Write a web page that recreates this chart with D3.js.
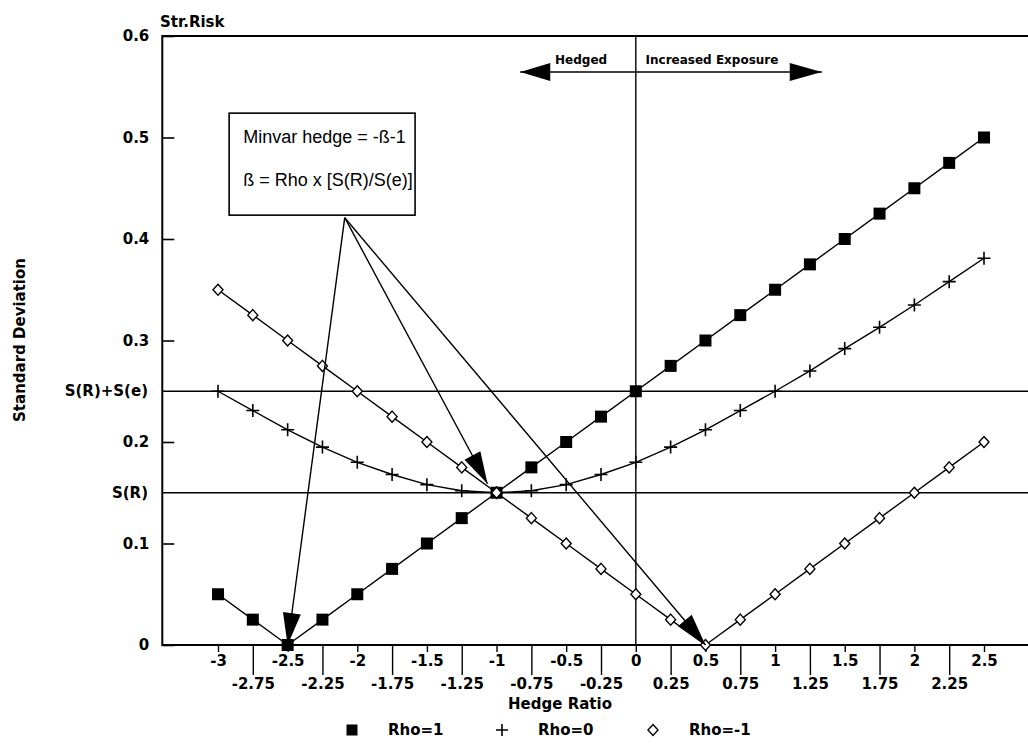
<!DOCTYPE html>
<html>
<head>
<meta charset="utf-8">
<script src="https://cdn.jsdelivr.net/npm/d3@7/dist/d3.min.js"></script>
<style>
  body { margin: 0; background: #ffffff; }
</style>
</head>
<body>
<div id="viz"></div>
<script>

const hedgeRatio = [-3, -2.75, -2.5, -2.25, -2, -1.75, -1.5, -1.25, -1, -0.75, -0.5, -0.25, 0, 0.25, 0.5, 0.75, 1, 1.25, 1.5, 1.75, 2, 2.25, 2.5]

const rhoPlusOne = [0.05, 0.025, 0, 0.025, 0.05, 0.075, 0.1, 0.125, 0.15, 0.175, 0.2, 0.225, 0.25, 0.275, 0.3, 0.325, 0.35, 0.375, 0.4, 0.425, 0.45, 0.475, 0.5]
const rhoZero = [0.25, 0.231, 0.212, 0.195, 0.18, 0.168, 0.158, 0.152, 0.15, 0.152, 0.158, 0.168, 0.18, 0.195, 0.212, 0.231, 0.25, 0.27, 0.292, 0.313, 0.335, 0.358, 0.381]
const rhoMinusOne = [0.35, 0.325, 0.3, 0.275, 0.25, 0.225, 0.2, 0.175, 0.15, 0.125, 0.1, 0.075, 0.05, 0.025, 0, 0.025, 0.05, 0.075, 0.1, 0.125, 0.15, 0.175, 0.2]

const majorTicks = [-3, -2.5, -2, -1.5, -1, -0.5, 0, 0.5, 1, 1.5, 2, 2.5]
const quarterTicks = [-2.75, -2.25, -1.75, -1.25, -0.75, -0.25, 0.25, 0.75, 1.25, 1.75, 2.25]
const yTicks = [0, 0.1, 0.2, 0.3, 0.4, 0.5, 0.6]

const refLabels = ["S(R)+S(e)", "S(R)"]
const refValues = [0.25, 0.15]

const legendNames = ["Rho=1", "Rho=0", "Rho=-1"]

// minimum-variance hedges the callout points at
const calloutTargets = [[-2.5, 0], [-1, 0.15], [0.5, 0]]

const width = 1028
const height = 746

const svg = d3.select("#viz").append("svg")
.attr("width", width)
.attr("height", height)
.style("background-color", "#ffffff")

const x = d3.scaleLinear()
.domain([-3, 2.5])
.range([218, 984])

const y = d3.scaleLinear()
.domain([0, 0.6])
.range([645, 36])

const left = x(-3.4)
const right = width
const axisFont = "DejaVu Sans, sans-serif"

// symbols
function square(g, s) {
  return g.append("rect")
  .attr("x", -s / 2).attr("y", -s / 2)
  .attr("width", s).attr("height", s)
  .attr("fill", "#000")
}
function plus(g, s) {
  return g.append("path")
  .attr("d", `M${-s / 2},0H${s / 2}M0,${-s / 2}V${s / 2}`)
  .attr("stroke", "#000")
  .attr("stroke-width", 1.6)
  .attr("fill", "none")
}
function diamond(g, s) {
  return g.append("path")
  .attr("d", `M0,${-s / 2 - 0.5}L${s / 2},0L0,${s / 2 + 0.5}L${-s / 2},0Z`)
  .attr("stroke", "#000")
  .attr("stroke-width", 1.4)
  .attr("fill", "#fff")
}

// reference lines
refValues.forEach((v, i) => {
  svg.append("line")
  .attr("x1", left).attr("x2", right)
  .attr("y1", y(v)).attr("y2", y(v))
  .attr("stroke", "#000")
  .attr("stroke-width", 1.4)

  svg.append("text")
  .attr("x", 148)
  .attr("y", y(v) + 5)
  .attr("text-anchor", "end")
  .attr("font-family", axisFont)
  .attr("font-weight", "bold")
  .attr("font-size", 15)
  .text(refLabels[i])
})

// zero hedge line
svg.append("line")
.attr("x1", x(0)).attr("x2", x(0))
.attr("y1", y(0.6)).attr("y2", y(0))
.attr("stroke", "#000")
.attr("stroke-width", 1.4)

// frame: left, top, bottom
svg.append("path")
.attr("d", `M${right},${y(0.6)}H${left}V${y(0)}H${right}`)
.attr("fill", "none")
.attr("stroke", "#000")
.attr("stroke-width", 2)

// y axis
const yAxis = svg.append("g")
.attr("transform", `translate(${left},0)`)
.call(d3.axisLeft(y).tickValues(yTicks).tickSize(-12).tickPadding(13).tickFormat(d => d === 0 ? "0" : d3.format(".1f")(d)))
yAxis.select(".domain").remove()
yAxis.selectAll("line").attr("stroke-width", 1.6)
yAxis.selectAll("text")
.attr("font-family", axisFont)
.attr("font-weight", "bold")
.attr("font-size", 15)
.attr("fill", "#000")

// x axis, two rows of labels
const fmt = d => String(d)
const xMajor = svg.append("g")
.attr("transform", `translate(0,${y(0)})`)
.call(d3.axisBottom(x).tickValues(majorTicks).tickSize(7).tickPadding(3).tickFormat(fmt))
const xQuarter = svg.append("g")
.attr("transform", `translate(0,${y(0)})`)
.call(d3.axisBottom(x).tickValues(quarterTicks).tickSize(30).tickPadding(3).tickFormat(fmt))

;[xMajor, xQuarter].forEach(g => {
  g.select(".domain").remove()
  g.selectAll("line").attr("stroke-width", 1.4)
  g.selectAll("text")
  .attr("font-family", axisFont)
  .attr("font-weight", "bold")
  .attr("font-size", 15)
  .attr("fill", "#000")
})

// axis titles
svg.append("text")
.attr("x", 160)
.attr("y", 27)
.attr("font-family", axisFont)
.attr("font-weight", "bold")
.attr("font-size", 15)
.text("Str.Risk")

svg.append("text")
.attr("transform", "translate(25,340) rotate(-90)")
.attr("text-anchor", "middle")
.attr("font-family", axisFont)
.attr("font-weight", "bold")
.attr("font-size", 15)
.text("Standard Deviation")

svg.append("text")
.attr("x", 560)
.attr("y", 709)
.attr("text-anchor", "middle")
.attr("font-family", axisFont)
.attr("font-weight", "bold")
.attr("font-size", 15)
.text("Hedge Ratio")

// series
const series = [
  { values: rhoPlusOne, mark: square, size: 12 },
  { values: rhoZero, mark: plus, size: 13 },
  { values: rhoMinusOne, mark: diamond, size: 10 }
]

const line = d3.line()
.x(d => x(d[0]))
.y(d => y(d[1]))

series.forEach(s => {
  const pts = hedgeRatio.map((h, i) => [h, s.values[i]])
  svg.append("path")
  .attr("d", line(pts))
  .attr("fill", "none")
  .attr("stroke", "#000")
  .attr("stroke-width", 1.4)

  pts.forEach(p => {
    const g = svg.append("g").attr("transform", `translate(${x(p[0])},${y(p[1])})`)
    s.mark(g, s.size)
  })
})

// arrowhead helper
function arrow(x1, y1, x2, y2, len, half) {
  svg.append("line")
  .attr("x1", x1).attr("y1", y1)
  .attr("x2", x2).attr("y2", y2)
  .attr("stroke", "#000")
  .attr("stroke-width", 1.4)
  const a = Math.atan2(y2 - y1, x2 - x1)
  const bx = x2 - len * Math.cos(a)
  const by = y2 - len * Math.sin(a)
  const px = -Math.sin(a) * half
  const py = Math.cos(a) * half
  svg.append("path")
  .attr("d", `M${x2},${y2}L${bx + px},${by + py}L${bx - px},${by - py}Z`)
  .attr("fill", "#000")
}

// callout box
const boxX0 = x(-2.92), boxX1 = x(-1.585)
const boxY0 = y(0.524), boxY1 = y(0.4235)

const origin = [x(-2.09), y(0.421)]
arrow(origin[0], origin[1], x(calloutTargets[0][0]), y(calloutTargets[0][1]), 32, 9)
arrow(origin[0], origin[1], x(calloutTargets[1][0]) - 9, y(calloutTargets[1][1]) - 9, 32, 9)
arrow(origin[0], origin[1], x(calloutTargets[2][0]), y(calloutTargets[2][1]), 32, 9)

svg.append("rect")
.attr("x", boxX0)
.attr("y", boxY0)
.attr("width", boxX1 - boxX0)
.attr("height", boxY1 - boxY0)
.attr("fill", "#fff")
.attr("stroke", "#000")
.attr("stroke-width", 1.6)

svg.append("text")
.attr("x", boxX0 + 14)
.attr("y", boxY0 + 30)
.attr("font-family", "Liberation Sans, Arial, sans-serif")
.attr("font-size", 18)
.text("Minvar hedge = -ß-1")

svg.append("text")
.attr("x", boxX0 + 14)
.attr("y", boxY0 + 73)
.attr("font-family", "Liberation Sans, Arial, sans-serif")
.attr("font-size", 18)
.text("ß = Rho x [S(R)/S(e)]")

// hedged / increased exposure arrows
const arrowY = y(0.5645)
arrow(x(0), arrowY, x(-0.83), arrowY, 30, 9)
arrow(x(0), arrowY, x(1.335), arrowY, 32, 9)

svg.append("text")
.attr("x", x(-0.58))
.attr("y", arrowY - 8)
.attr("font-family", axisFont)
.attr("font-weight", "bold")
.attr("font-size", 12)
.text("Hedged")

svg.append("text")
.attr("x", x(0.07))
.attr("y", arrowY - 8)
.attr("font-family", axisFont)
.attr("font-weight", "bold")
.attr("font-size", 12)
.text("Increased Exposure")

// legend
const legendX = [352, 502, 653]
const legendMarks = [square, plus, diamond]
const legendSizes = [11, 12, 10]
legendNames.forEach((name, i) => {
  const g = svg.append("g").attr("transform", `translate(${legendX[i]},730)`)
  legendMarks[i](g, legendSizes[i])
  svg.append("text")
  .attr("x", legendX[i] + 36)
  .attr("y", 735)
  .attr("font-family", axisFont)
  .attr("font-weight", "bold")
  .attr("font-size", 15)
  .text(name)
})

</script>
</body>
</html>
